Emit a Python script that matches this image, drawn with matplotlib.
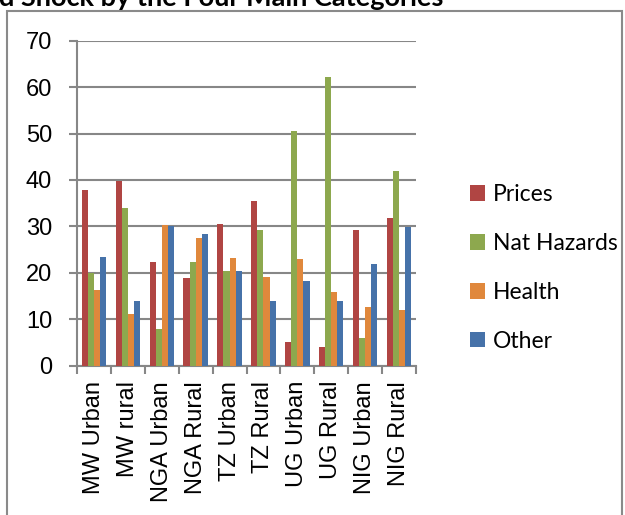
import numpy as np
import matplotlib
matplotlib.use("Agg")
import matplotlib.pyplot as plt
from matplotlib.patches import Rectangle

# Share of households reporting each shock type, by country and area
regions = [
    "MW Urban", "MW rural", "NGA Urban", "NGA Rural", "TZ Urban",
    "TZ Rural", "UG Urban", "UG Rural", "NIG Urban", "NIG Rural",
]
prices = [37.8, 39.8, 22.3, 18.8, 30.6, 35.4, 5.0, 4.1, 29.2, 31.9]
nat_hazards = [19.9, 33.9, 7.9, 22.3, 20.4, 29.2, 50.5, 62.1, 6.0, 41.9]
health = [16.4, 11.1, 30.4, 27.4, 23.3, 19.1, 23.0, 15.8, 12.6, 11.9]
other = [23.5, 14.0, 30.1, 28.4, 20.4, 14.0, 18.2, 14.0, 21.9, 29.9]

series = [
    ("Prices", prices, "#B04543"),
    ("Nat Hazards", nat_hazards, "#8DA84E"),
    ("Health", health, "#E0883C"),
    ("Other", other, "#4672A9"),
]

W, H = 625, 515
fig = plt.figure(figsize=(W / 100, H / 100), dpi=100)
ax = fig.add_axes([77 / W, 1 - 365.7 / H, (416 - 77) / W, (365.7 - 40.7) / H])

x = np.arange(len(regions))
bar_w = 0.18
for i, (name, vals, col) in enumerate(series):
    ax.bar(x + (i - 1.5) * bar_w, vals, width=bar_w, color=col,
           label=name, zorder=3)

grid_col = "#878787"
ax.set_xlim(-0.5, len(regions) - 0.5)
ax.set_ylim(0, 70)
ax.set_yticks(range(0, 71, 10))
ax.yaxis.grid(True, color=grid_col, lw=1.5, zorder=0)
ax.set_axisbelow(True)

ax.set_xticks(x)
ax.set_xticklabels(regions, rotation=90, fontsize=17, family="Liberation Sans")
ax.set_xticks(np.arange(-0.5, len(regions)), minor=True)
ax.tick_params(axis="x", which="major", length=0, pad=11)
ax.tick_params(axis="x", which="minor", length=6, width=1.5, color=grid_col)
ax.tick_params(axis="y", length=6, width=1.5, color=grid_col, pad=12,
               labelsize=17)
for lab in ax.get_yticklabels():
    lab.set_family("Liberation Sans")

for s in ["top", "right"]:
    ax.spines[s].set_visible(False)
for s in ["left", "bottom"]:
    ax.spines[s].set_color(grid_col)
    ax.spines[s].set_linewidth(1.5)

leg = fig.legend(loc="upper left", bbox_to_anchor=(470 / W, 1 - 184 / H),
                 frameon=False, prop={"family": "Lato", "size": 16.5},
                 handlelength=0.65, handleheight=0.65, handletextpad=0.35,
                 labelspacing=1.22, borderpad=0, borderaxespad=0)

# outer chart border, running off the bottom of the picture
fig.patches.append(Rectangle((7 / W, -0.1), (622 - 7) / W, 1.1 - 11 / H,
                             transform=fig.transFigure, fill=False,
                             edgecolor="#8a8a8a", lw=1.5))

fig.text(-0.002, 1 - 6 / H, "d Shock by the Four Main Categories",
         fontsize=19.5, fontweight="bold", family="Lato", va="baseline")

fig.savefig("out.png", dpi=100)
